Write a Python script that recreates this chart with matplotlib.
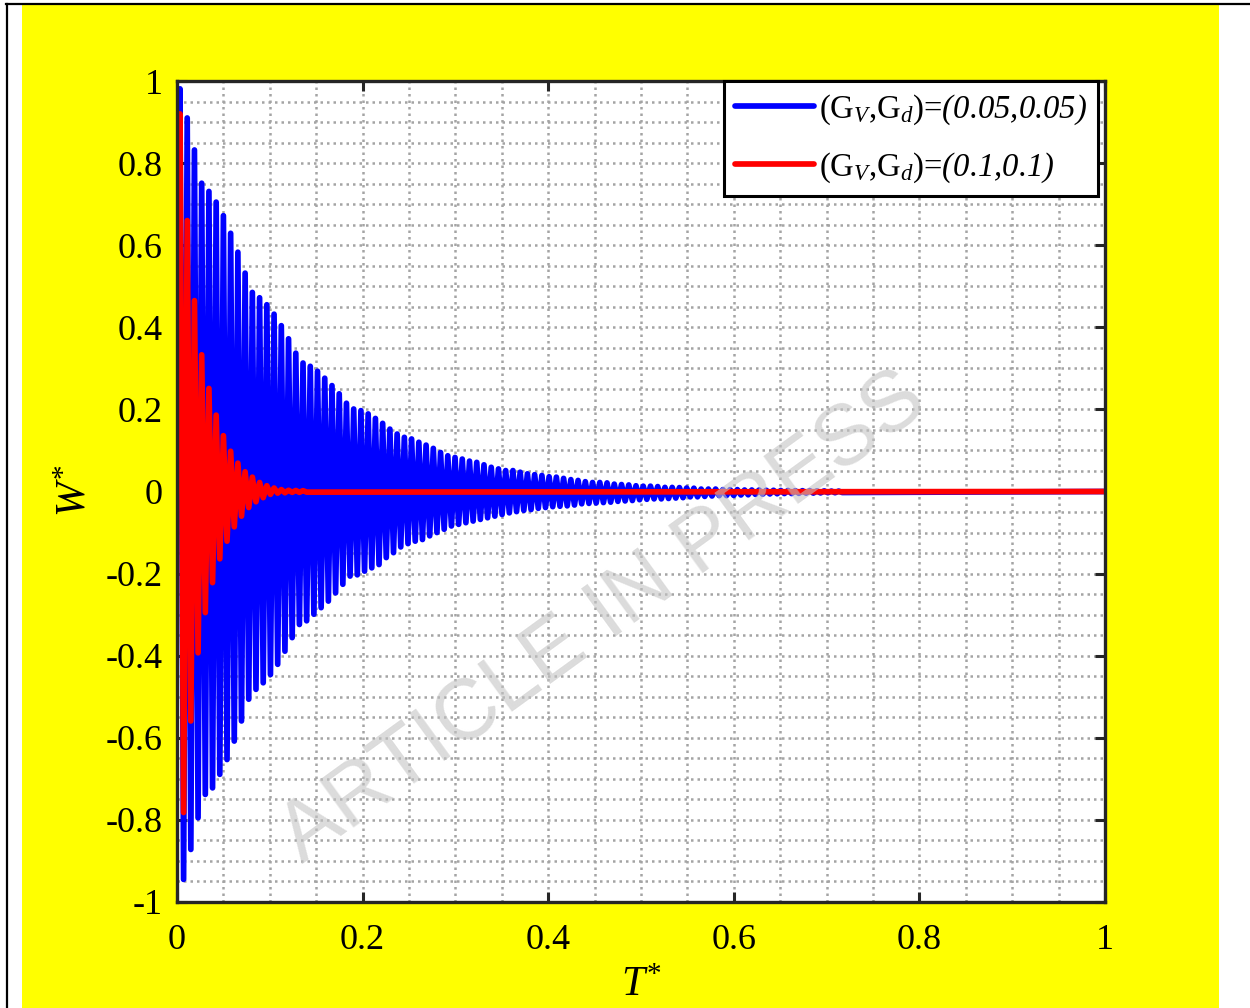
import numpy as np
import matplotlib
matplotlib.use("Agg")
import matplotlib.pyplot as plt
from matplotlib.ticker import MultipleLocator, FuncFormatter
from matplotlib.patches import Rectangle
from matplotlib.lines import Line2D

plt.rcParams['font.family'] = ['Liberation Serif', 'DejaVu Serif']
plt.rcParams['mathtext.fontset'] = 'custom'
plt.rcParams['mathtext.rm'] = 'Liberation Serif'
plt.rcParams['mathtext.it'] = 'Liberation Serif:italic'
# italic slot that also slants digits and brackets
plt.rcParams['mathtext.sf'] = 'Liberation Serif:italic'
plt.rcParams['axes.unicode_minus'] = False

# dimensionless time of the first crest and oscillation period
T_FIRST_PEAK = 0.0032
PERIOD = 0.0078

# crest / trough amplitudes of W* for (Gv, Gd) = (0.05, 0.05)
BLUE_PEAKS = [0.981, 0.910, 0.832, 0.751, 0.731, 0.705, 0.672, 0.629, 0.583, 0.532,
              0.485, 0.472, 0.455, 0.432, 0.404, 0.372, 0.337, 0.313, 0.305, 0.293,
              0.276, 0.258, 0.238, 0.215, 0.201, 0.197, 0.189, 0.178, 0.166, 0.152,
              0.140, 0.132, 0.128, 0.120, 0.113, 0.105, 0.095, 0.087, 0.083, 0.079,
              0.074, 0.071, 0.065, 0.059, 0.055, 0.051, 0.051, 0.047, 0.043, 0.041,
              0.039, 0.036, 0.035, 0.032, 0.029, 0.027, 0.024, 0.022, 0.022, 0.021,
              0.018, 0.017, 0.016, 0.014, 0.013, 0.013, 0.012, 0.010, 0.010, 0.0095,
              0.0085, 0.008, 0.006, 0.006, 0.006, 0.0046, 0.0046, 0.0046, 0.0037, 0.0037,
              0.0037, 0.003, 0.003, 0.0025, 0.0025, 0.002, 0.002, 0.002, 0.0015, 0.0015,
              0.001, 0.001]
BLUE_TROUGHS = [-0.945, -0.872, -0.795, -0.738, -0.722, -0.689, -0.653, -0.608, -0.559, -0.506,
                -0.482, -0.466, -0.446, -0.421, -0.389, -0.356, -0.324, -0.315, -0.299, -0.283,
                -0.267, -0.247, -0.226, -0.206, -0.203, -0.194, -0.186, -0.178, -0.161, -0.149,
                -0.135, -0.127, -0.121, -0.117, -0.108, -0.100, -0.092, -0.084, -0.080, -0.076,
                -0.072, -0.068, -0.064, -0.060, -0.056, -0.052, -0.049, -0.046, -0.044, -0.041,
                -0.039, -0.037, -0.036, -0.035, -0.033, -0.030, -0.029, -0.028, -0.027, -0.026,
                -0.024, -0.023, -0.022, -0.020, -0.019, -0.018, -0.018, -0.017, -0.016, -0.015,
                -0.013, -0.013, -0.012, -0.011, -0.010, -0.010, -0.0095, -0.0085, -0.008, -0.007,
                -0.0066, -0.006, -0.0055, -0.005, -0.005, -0.0045, -0.004, -0.004, -0.0035, -0.003,
                -0.003, -0.0025]

# crest / trough amplitudes of W* for (Gv, Gd) = (0.1, 0.1)
RED_PEAKS = [0.920, 0.660, 0.465, 0.333, 0.251, 0.186, 0.136, 0.098, 0.069, 0.048,
             0.035, 0.022, 0.014, 0.0085, 0.0046, 0.003, 0.0025, 0.002]
RED_TROUGHS = [-0.782, -0.559, -0.393, -0.295, -0.222, -0.164, -0.121, -0.086, -0.060, -0.039,
               -0.025, -0.015, -0.007, -0.004, -0.003, -0.002, -0.002, -0.0015]

LABELS = [r'$\mathrm{(G}_{\mathit{V}}\mathrm{{,}G}_{\mathit{d}}\mathrm{)}$=$\mathsf{(0.05{,}0.05)}$',
          r'$\mathrm{(G}_{\mathit{V}}\mathrm{{,}G}_{\mathit{d}}\mathrm{)}$=$\mathsf{(0.1{,}0.1)}$']


def build_series(peaks, troughs):
    t = [0.0]
    w = [0.0]
    for k, (p, q) in enumerate(zip(peaks, troughs)):
        tp = T_FIRST_PEAK + k * PERIOD
        t += [tp, tp + PERIOD / 2]
        w += [p, q]
    t.append(1.0)
    w.append(0.0)
    return np.array(t), np.array(w)


fig = plt.figure(figsize=(12.5, 10.08), dpi=100, facecolor='white')

# yellow page background with black border on top / left
fig.patches.append(Rectangle((22 / 1250, 0), (1219 - 22) / 1250, 1 - 5 / 1008,
                             transform=fig.transFigure, facecolor='#ffff00',
                             edgecolor='none', zorder=-10))
fig.lines.append(Line2D([6 / 1250, 1], [1 - 4 / 1008, 1 - 4 / 1008],
                        transform=fig.transFigure, color='black', lw=1.6))
fig.lines.append(Line2D([7 / 1250, 7 / 1250], [0, 1 - 4 / 1008],
                        transform=fig.transFigure, color='black', lw=1.6))

ax = fig.add_axes([177 / 1250, 1 - 902 / 1008, 928 / 1250, 821 / 1008])
ax.set_facecolor('white')

tb, wb = build_series(BLUE_PEAKS, BLUE_TROUGHS)
tr, wr = build_series(RED_PEAKS, RED_TROUGHS)
ax.plot(tb, wb, color='#0000ff', lw=4.1, solid_joinstyle='round',
        solid_capstyle='round', label=LABELS[0], zorder=3)
ax.plot(tr, wr, color='#ff0000', lw=4.1, solid_joinstyle='round',
        solid_capstyle='round', label=LABELS[1], zorder=4)

ax.set_xlim(0, 1)
ax.set_ylim(-1, 1)
ax.set_xticks(np.arange(0, 1.01, 0.2))
ax.set_yticks(np.arange(-1, 1.01, 0.2))
ax.xaxis.set_minor_locator(MultipleLocator(0.05))
ax.yaxis.set_minor_locator(MultipleLocator(0.05))
fmt = FuncFormatter(lambda v, pos: '%g' % (round(v, 2) + 0.0))
ax.xaxis.set_major_formatter(fmt)
ax.yaxis.set_major_formatter(fmt)

ax.grid(which='both', color='#a4a4a4', linestyle=(0, (1, 1.6)), linewidth=1.8, zorder=0)
ax.set_axisbelow(True)
ax.tick_params(which='major', direction='in', length=7, width=2.2, top=True, right=True,
               labelsize=26, color='#262626')
ax.tick_params(axis='x', which='major', pad=16)
ax.tick_params(axis='y', which='major', pad=10)
ax.tick_params(which='minor', length=0)
for s in ax.spines.values():
    s.set_linewidth(2.4)
    s.set_color('#262626')
    s.set_zorder(5)

leg = ax.legend(loc='upper right', bbox_to_anchor=(1 - 7 / 928, 1.0), borderaxespad=0,
                fontsize=23.5, frameon=True, fancybox=False, handlelength=2.4,
                handletextpad=0.15, labelspacing=0.72, borderpad=0.35)
leg.get_frame().set_edgecolor('black')
leg.get_frame().set_linewidth(2.2)
leg.get_frame().set_alpha(1)
leg.set_zorder(6)

fig.text(75 / 1250, 1 - 491 / 1008, r'$\mathit{W}^{*}$', rotation=90, fontsize=30,
         ha='center', va='center')
fig.text(642 / 1250, 1 - 986 / 1008, r'$\mathit{T}^{*}$', fontsize=30,
         ha='center', va='center')

# watermark
fig.text(603 / 1250, 1 - 618 / 1008, 'ARTICLE IN PRESS', family='Liberation Sans',
         fontsize=61, color='#c4c4c4', alpha=0.6, rotation=36,
         ha='center', va='center', rotation_mode='anchor', zorder=20)

fig.savefig('out.png', dpi=100, facecolor=fig.get_facecolor())
